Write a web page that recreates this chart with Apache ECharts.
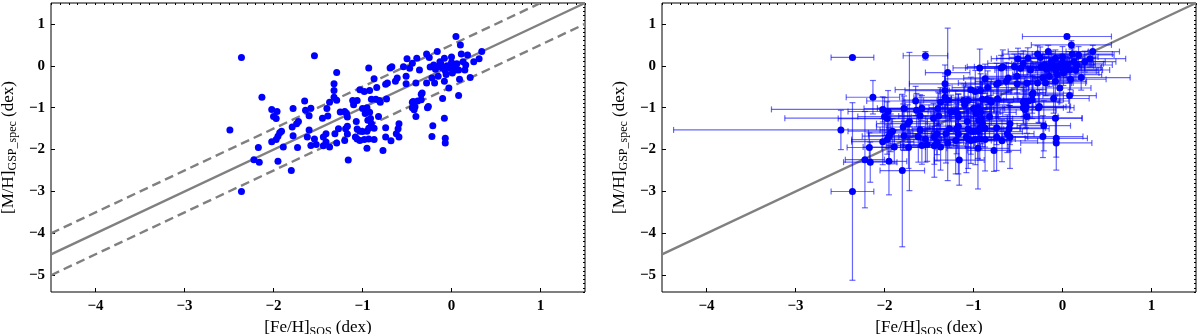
<!DOCTYPE html>
<html>
<head>
<meta charset="utf-8">
<script src="https://cdn.jsdelivr.net/npm/echarts@6/dist/echarts.min.js"></script>
<style>
  html, body { margin: 0; padding: 0; background: #fff; }
  #chart { width: 1200px; height: 334px; }
</style>
</head>
<body>
<div id="chart"></div>
<script>
// [Fe/H] from SOS (x) and [M/H] from GSP-spec (y)
var feHSos = [
  -2.36, -1.54, -2.49, -2.36, -2.13, -2.22, -2.16, -2.17, -1.80, -1.95,
  -1.16, -0.77, -0.95, -2.02, -1.96, -2.00, -1.97, -2.02, -1.97, -1.95,
  -1.93, -1.91, -1.89, -1.78, -1.79, -1.78, -1.74, -1.72, -1.73, -1.65,
  -1.64, -1.60, -1.58, -1.60, -1.62, -1.58, -1.54, -1.52, -1.45, -1.39,
  -1.40, -1.37, -1.41, -1.44, -1.41, -1.44, -1.37, -1.29, -1.32, -1.29,
  -1.32, -1.32, -1.29, -1.31, -1.27, -1.25, -1.20, -1.18, -1.17, -1.17,
  -1.19, -1.17, -1.20, -1.11, -1.06, -1.10, -1.03, -0.98, -0.92, -1.07,
  -1.06, -1.03, -1.00, -0.95, -0.93, -0.87, -0.90, -0.94, -0.91, -0.82,
  -0.92, -0.97, -0.95, -1.00, -1.08, -1.06, -1.03, -0.98, -0.93, -0.87,
  -0.74, -0.68, -0.62, -0.59, -0.60, -0.59, -0.74, -0.81, -0.85, -0.90,
  -0.80, -0.73, -0.93, -0.87, -0.84, -0.74, -0.69, -0.72, -0.63, -0.61,
  -0.67, -0.54, -0.51, -0.51, -0.50, -0.47, -0.44, -0.39, -0.40, -0.36,
  -0.33, -0.34, -0.43, -0.41, -0.26, -0.28, -0.25, -0.16, -0.28, -0.22,
  -0.19, -0.15, -0.08, -0.06, 0.01, 0.05, -0.08, 0.00, 0.05, 0.10,
  0.34, 0.31, 0.25, 0.18, 0.11, 0.13, 0.16, 0.15, 0.08, 0.09,
  0.21, -0.03, 0.08, -0.10, -0.20, -0.15, -0.12, -0.10, -0.05, -0.02,
  0.02, 0.04, -0.18, -0.07, 0.00, -0.13, -0.24, 0.06, -0.44, -0.42,
  -0.27, -0.40, -0.21, -0.22, -0.08, -0.07, -0.07, -0.38, -0.44, -0.34
];
var mhGsp = [
  0.20, 0.24, -1.53, -3.00, -0.75, -2.24, -2.30, -1.95, -2.50, -2.28,
  -2.25, -2.02, -1.97, -1.04, -1.09, -1.21, -1.26, -1.81, -1.76, -1.68,
  -1.60, -1.56, -1.94, -1.02, -1.46, -1.67, -1.38, -1.33, -1.95, -0.84,
  -1.06, -1.19, -1.01, -1.53, -1.70, -1.90, -1.75, -1.88, -1.25, -1.20,
  -1.02, -0.87, -1.62, -1.70, -1.82, -1.91, -1.94, -1.84, -0.43, -0.16,
  -0.59, -0.75, -0.82, -1.62, -1.50, -1.10, -1.09, -1.13, -1.22, -1.44,
  -1.50, -1.63, -1.78, -0.83, -0.83, -0.93, -0.57, -0.61, -0.59, -1.33,
  -1.51, -1.56, -1.57, -1.56, -1.49, -1.49, -1.38, -1.30, -1.26, -1.21,
  -1.11, -1.14, -1.00, -1.02, -1.70, -1.75, -1.78, -1.76, -1.75, -1.76,
  -1.70, -1.79, -1.62, -1.70, -1.50, -1.38, -1.48, -0.83, -0.80, -0.80,
  -0.87, -0.79, -0.05, -0.31, -0.52, -0.44, -0.05, -0.41, -0.37, -0.29,
  -0.02, -0.02, -0.25, -0.43, 0.17, -0.06, 0.06, 0.18, -0.41, -0.10,
  -0.65, -0.81, -0.85, -0.98, -0.97, 0.28, 0.20, 0.34, -0.41, -0.29,
  -0.41, -0.25, -0.37, -0.21, -0.17, -0.10, 0.18, 0.21, 0.70, 0.50,
  0.34, 0.17, 0.10, 0.26, 0.28, 0.10, 0.02, -0.10, -0.10, -0.32,
  -0.28, -0.53, -0.71, -0.78, 0.02, -0.02, 0.05, -0.05, 0.00, -0.05,
  0.03, -0.03, -0.08, -0.12, 0.08, 0.10, -0.03, 0.05, -1.00, -1.05,
  -1.00, -1.21, -1.43, -1.69, -1.25, -1.73, -1.84, -0.84, -0.87, -0.68
];
// error bars (half widths) used on the right panel
var feHErr = [
  .24, .25, 1.88, .24, .30, .22, .30, .25, .25, .20,
  .28, .30, .35, 1.25, .45, .30, .55, .35, .40, .30,
  .25, .50, .35, .45, .30, .40, .35, .20, .30, .55,
  .40, .35, .50, .45, .30, .40, .35, .30, 1.67, .45,
  .60, .40, .35, .40, .30, .35, .45, .30, .40, .25,
  .45, .35, .50, .40, .35, .55, .40, .30, .45, .35,
  .50, .30, .40, .45, .35, .50, .85, .40, .35, .45,
  .40, .30, .55, .35, .45, .40, .30, .50, .35, .45,
  .40, .30, .55, .35, .40, .30, .45, .35, .40, .30,
  .35, .40, .30, .35, .45, .40, .55, .45, .40, .35,
  .50, .40, .30, .45, .40, .35, .40, .45, .35, .50,
  .40, .45, .35, .40, .30, .45, .40, .35, .50, .40,
  .45, .35, .40, .45, .35, .40, .35, .45, .40, .35,
  .45, .40, .35, .50, .40, .35, .45, .40, .50, .45,
  .30, .40, .35, .40, .45, .35, .40, .30, .45, .40,
  .55, .35, .30, .40, .35, .40, .45, .35, .40, .45,
  .35, .40, .30, .45, .35, .40, .45, .40, .45, .35,
  .40, .35, .30, .45, .30, .35, .40, .45, .40, .35
];
var mhErr = [
  .03, .10, .47, 2.12, .40, 1.15, .48, .35, 1.82, .80,
  .60, .50, .97, .30, .50, .45, .40, .55, .35, .60,
  .45, .30, .40, .30, .55, .35, .45, 1.65, .50, .35,
  .40, .50, .30, .40, .60, .45, .55, .40, .35, .55,
  .40, .35, .50, .65, .45, .75, .55, .90, .45, 1.06,
  .40, .50, .35, .70, .45, .40, .50, .35, .55, .40,
  .60, .95, .80, .40, .35, .45, .30, .50, .40, .60,
  .45, .55, .40, .65, .50, .45, .55, .40, .60, .50,
  .45, .35, .50, .40, .85, .70, .55, .60, .50, .75,
  .80, .50, .45, .75, .55, .50, .40, .45, .50, .40,
  .55, .45, .45, .35, .40, .50, .30, .40, .45, .35,
  .40, .30, .40, .35, .25, .35, .30, .25, .40, .35,
  .40, .45, .35, .50, .40, .20, .25, .15, .30, .35,
  .30, .25, .35, .25, .30, .25, .20, .25, .05, .10,
  .15, .20, .25, .20, .15, .25, .20, .25, .30, .25,
  .30, .35, .40, .35, .25, .30, .25, .20, .25, .30,
  .20, .25, .30, .25, .20, .25, .30, .20, .40, .45,
  .35, .40, .60, .50, .55, .45, .65, .40, .35, .45
];
// 1:1 relation and the +/-0.5 dex band
var oneToOne = [[-4.5, -4.5], [1.5, 1.5]];
var bandUpper = [[-4.5, -4.0], [1.0, 1.5]];
var bandLower = [[-4.5, -5.0], [1.5, 1.0]];

var XMIN = -4.5, XMAX = 1.5, YMIN = -5.4, YMAX = 1.5;

var points = feHSos.map(function (x, i) { return [x, mhGsp[i]]; });
var errData = feHSos.map(function (x, i) { return [x, mhGsp[i], feHErr[i], mhErr[i]]; });

var chart = echarts.init(document.getElementById('chart'), null, { renderer: 'canvas' });

var labelFont = { fontFamily: 'Liberation Serif', fontWeight: 'bold', fontSize: 15, color: '#000' };
var richName = {
  a: { fontFamily: 'Liberation Serif', fontSize: 17, color: '#000', lineHeight: 21 },
  s: { fontFamily: 'Liberation Serif', fontSize: 12, color: '#000', lineHeight: 12, verticalAlign: 'bottom' }
};

function tickLabel(v) {
  if (Math.abs(v - Math.round(v)) > 1e-6) return '';
  v = Math.round(v);
  return v < 0 ? '\u2212' + Math.abs(v) : String(v);
}

function mainX(g) {
  return {
    type: 'value', gridIndex: g, min: XMIN, max: XMAX, splitNumber: 6,
    axisLine: { show: false, onZero: false }, splitLine: { show: false },
    axisTick: { inside: true, length: 4, lineStyle: { color: '#000' } },
    axisLabel: Object.assign({ formatter: tickLabel, margin: 7, showMinLabel: false, showMaxLabel: false }, labelFont),
    name: '{a|[Fe/H]}{s|SOS}{a| (dex)}', nameLocation: 'middle', nameGap: 23,
    nameTextStyle: { rich: richName }
  };
}
function minorX(g) {
  return {
    type: 'value', gridIndex: g, min: XMIN, max: XMAX, interval: 0.1,
    axisLine: { show: false, onZero: false }, splitLine: { show: false }, axisLabel: { show: false },
    axisTick: { inside: true, length: 2, lineStyle: { color: '#000' } }
  };
}
function mainY(g) {
  return {
    type: 'value', gridIndex: g, min: YMIN, max: YMAX, splitNumber: 7,
    axisLine: { show: false, onZero: false }, splitLine: { show: false },
    axisTick: { inside: true, length: 4, lineStyle: { color: '#000' } },
    axisLabel: Object.assign({ formatter: tickLabel, margin: 6, showMinLabel: false, showMaxLabel: false }, labelFont),
    name: '{a|[M/H]}{s|GSP_spec}{a| (dex)}', nameLocation: 'middle', nameGap: 32,
    nameTextStyle: { rich: richName }
  };
}
function minorY(g) {
  return {
    type: 'value', gridIndex: g, min: YMIN, max: YMAX, interval: 0.1,
    axisLine: { show: false, onZero: false }, splitLine: { show: false }, axisLabel: { show: false },
    axisTick: { inside: true, length: 2, lineStyle: { color: '#000' } }
  };
}

function refLine(data, xi, dashed) {
  return {
    type: 'line', xAxisIndex: xi, yAxisIndex: xi, data: data, symbol: 'none',
    silent: true, animation: false, z: 1,
    lineStyle: { color: '#808080', width: 2.4, type: dashed ? [9, 5] : 'solid' }
  };
}

function errorBar(params, api) {
  var x = api.value(0), y = api.value(1), xe = api.value(2), ye = api.value(3);
  var l = api.coord([x - xe, y]), r = api.coord([x + xe, y]);
  var t = api.coord([x, y + ye]), b = api.coord([x, y - ye]);
  var c = 3;
  var st = { stroke: 'rgba(0,0,255,0.6)', lineWidth: 1.2, fill: null };
  return {
    type: 'group',
    children: [
      { type: 'line', shape: { x1: l[0], y1: l[1], x2: r[0], y2: r[1] }, style: st },
      { type: 'line', shape: { x1: l[0], y1: l[1] - c, x2: l[0], y2: l[1] + c }, style: st },
      { type: 'line', shape: { x1: r[0], y1: r[1] - c, x2: r[0], y2: r[1] + c }, style: st },
      { type: 'line', shape: { x1: t[0], y1: t[1], x2: b[0], y2: b[1] }, style: st },
      { type: 'line', shape: { x1: t[0] - c, y1: t[1], x2: t[0] + c, y2: t[1] }, style: st },
      { type: 'line', shape: { x1: b[0] - c, y1: b[1], x2: b[0] + c, y2: b[1] }, style: st }
    ]
  };
}

var option = {
  backgroundColor: '#ffffff',
  animation: false,
  grid: [
    { left: 51, width: 534, top: 3, height: 289, show: true, borderColor: '#000', borderWidth: 1, outerBoundsMode: 'none' },
    { left: 662, width: 534, top: 3, height: 289, show: true, borderColor: '#000', borderWidth: 1, outerBoundsMode: 'none' }
  ],
  xAxis: [mainX(0), minorX(0), mainX(1), minorX(1)],
  yAxis: [mainY(0), minorY(0), mainY(1), minorY(1)],
  series: [
    refLine(oneToOne, 0, false),
    refLine(bandUpper, 0, true),
    refLine(bandLower, 0, true),
    {
      type: 'scatter', xAxisIndex: 0, yAxisIndex: 0, data: points, z: 3,
      symbolSize: 7, itemStyle: { color: '#0000ff', opacity: 1 }
    },
    refLine(oneToOne, 2, false),
    {
      type: 'custom', xAxisIndex: 2, yAxisIndex: 2, data: errData, z: 2,
      encode: { x: 0, y: 1 }, renderItem: errorBar, silent: true
    },
    {
      type: 'scatter', xAxisIndex: 2, yAxisIndex: 2, data: points, z: 3,
      symbolSize: 7, itemStyle: { color: '#0000ff', opacity: 1 }
    }
  ]
};
chart.setOption(option);
</script>
</body>
</html>
